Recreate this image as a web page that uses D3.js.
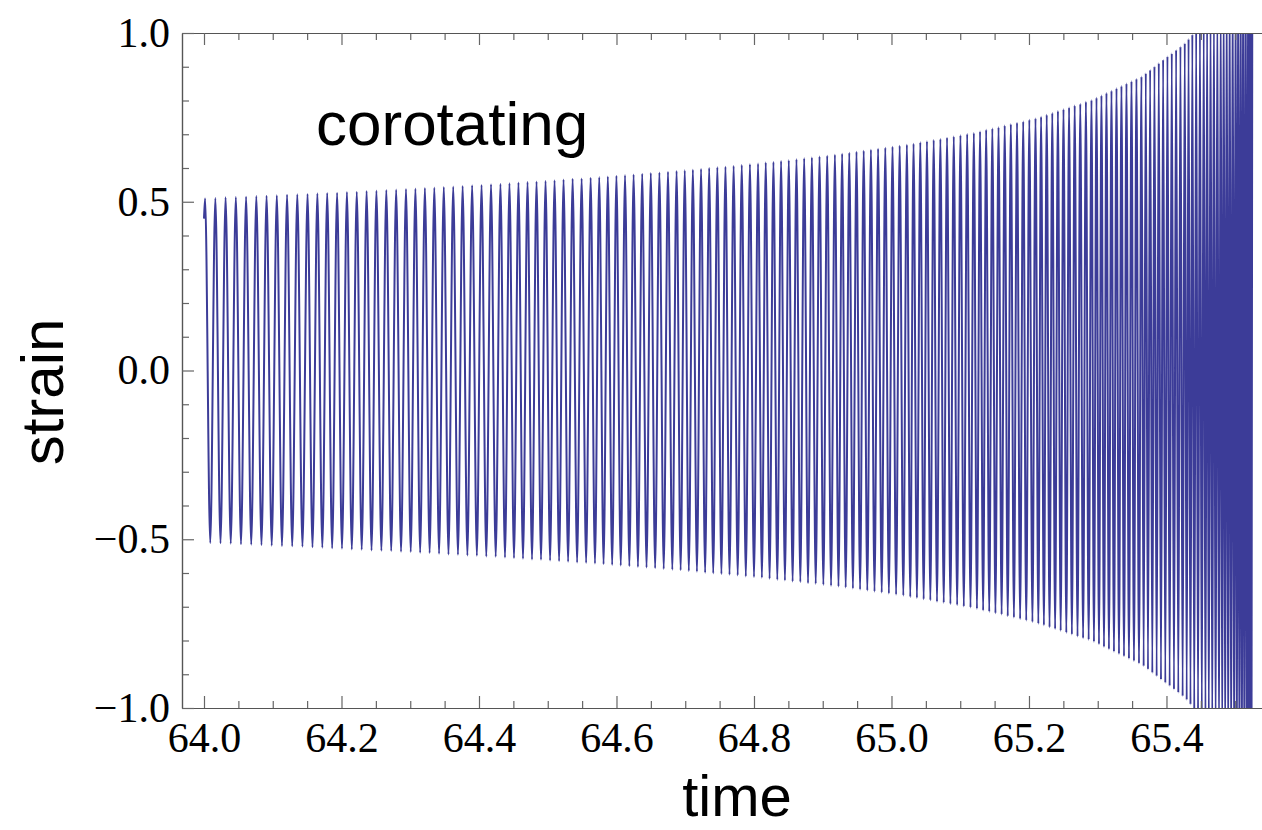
<!DOCTYPE html>
<html><head><meta charset="utf-8">
<script src="https://cdn.jsdelivr.net/npm/d3@7"></script>
<style>
html,body{margin:0;padding:0;background:#fff;overflow:hidden;}
svg{display:block;}
</style></head>
<body>
<svg id="chart" width="1262" height="830"></svg>
<script>
// ---- data (extrema of the waveform) ----
const extremaTime = [64.0000,
64.0016,64.0091,64.0165,64.0240,64.0314,64.0389,64.0463,64.0538,64.0612,64.0687,64.0761,64.0836,64.0910,64.0985,64.1059,64.1134,64.1208,64.1283,64.1357,64.1432,64.1506,
64.1578,64.1649,64.1721,64.1792,64.1864,64.1936,64.2007,64.2079,64.2150,64.2222,64.2294,64.2365,64.2437,64.2508,64.2580,64.2652,64.2723,64.2795,64.2866,64.2938,
64.3007,64.3075,64.3144,64.3213,64.3282,64.3350,64.3419,64.3488,64.3556,64.3625,64.3694,64.3762,64.3831,64.3900,64.3969,64.4037,64.4106,64.4175,64.4243,64.4312,
64.4378,64.4443,64.4509,64.4574,64.4640,64.4706,64.4771,64.4837,64.4902,64.4968,64.5034,64.5099,64.5165,64.5230,64.5296,64.5362,64.5427,64.5493,64.5558,64.5624,
64.5687,64.5749,64.5812,64.5874,64.5937,64.5999,64.6062,64.6124,64.6187,64.6249,64.6312,64.6374,64.6437,64.6499,64.6562,64.6624,64.6687,64.6749,64.6812,64.6874,
64.6933,64.6993,64.7052,64.7111,64.7170,64.7230,64.7289,64.7348,64.7407,64.7467,64.7526,64.7585,64.7644,64.7704,64.7763,64.7822,64.7881,64.7941,64.8000,64.8059,
64.8115,64.8171,64.8227,64.8283,64.8339,64.8394,64.8450,64.8506,64.8562,64.8618,64.8674,64.8730,64.8786,64.8842,64.8898,64.8953,64.9009,64.9065,64.9121,64.9177,
64.9229,64.9282,64.9334,64.9386,64.9439,64.9491,64.9543,64.9596,64.9648,64.9701,64.9753,64.9805,64.9858,64.9910,64.9962,65.0015,65.0067,65.0119,65.0172,65.0224,
65.0273,65.0321,65.0370,65.0419,65.0468,65.0516,65.0565,65.0614,65.0662,65.0711,65.0760,65.0808,65.0857,65.0906,65.0955,65.1003,65.1052,65.1101,65.1149,65.1198,
65.1243,65.1288,65.1333,65.1377,65.1422,65.1467,65.1512,65.1557,65.1602,65.1647,65.1691,65.1736,65.1781,65.1826,65.1871,65.1916,65.1960,65.2005,65.2050,65.2095,
65.2136,65.2176,65.2217,65.2258,65.2299,65.2339,65.2380,65.2421,65.2461,65.2502,65.2543,65.2583,65.2624,65.2665,65.2706,65.2746,65.2787,65.2828,65.2868,65.2909,
65.2945,65.2982,65.3018,65.3054,65.3091,65.3127,65.3163,65.3200,65.3236,65.3273,65.3309,65.3345,65.3382,65.3418,65.3454,65.3491,65.3527,65.3563,65.3600,65.3636,
65.3668,65.3699,65.3731,65.3762,65.3794,65.3825,65.3857,65.3888,65.3920,65.3951,65.3983,65.4014,65.4046,65.4077,65.4109,65.4140,65.4172,65.4203,65.4235,65.4266,
65.4294,65.4321,65.4349,65.4376,65.4404,65.4432,65.4459,65.4487,65.4514,65.4542,
65.4567,65.4591,65.4616,65.4641,65.4666,65.4690,65.4715,65.4740,65.4764,65.4789,
65.4811,65.4832,65.4854,65.4876,65.4898,65.4919,65.4941,65.4963,65.4984,65.5006,
65.5024,65.5042,65.5061,65.5079,65.5097,65.5115,65.5133,65.5152,65.5170,65.5188,
65.5204,65.5219,65.5235,65.5250];

const extremaValue = [0.45,
0.510,-0.511,0.511,-0.512,0.513,-0.513,0.514,-0.515,0.515,-0.516,0.517,-0.517,0.518,-0.519,0.519,-0.520,0.521,-0.521,0.522,-0.522,0.523,
-0.524,0.525,-0.525,0.526,-0.527,0.527,-0.528,0.529,-0.530,0.530,-0.531,0.532,-0.533,0.533,-0.534,0.535,-0.535,0.536,-0.537,0.538,
-0.538,0.539,-0.540,0.541,-0.541,0.542,-0.543,0.544,-0.545,0.545,-0.546,0.547,-0.548,0.549,-0.549,0.550,-0.551,0.552,-0.552,0.553,
-0.554,0.555,-0.556,0.557,-0.558,0.559,-0.560,0.560,-0.561,0.562,-0.563,0.564,-0.565,0.566,-0.567,0.568,-0.569,0.569,-0.570,0.571,
-0.572,0.573,-0.574,0.575,-0.576,0.577,-0.578,0.579,-0.580,0.581,-0.582,0.583,-0.584,0.585,-0.586,0.587,-0.588,0.589,-0.590,0.591,
-0.592,0.593,-0.594,0.595,-0.596,0.597,-0.599,0.600,-0.601,0.602,-0.603,0.604,-0.605,0.606,-0.607,0.609,-0.610,0.611,-0.612,0.613,
-0.614,0.616,-0.617,0.618,-0.620,0.621,-0.622,0.623,-0.625,0.626,-0.627,0.629,-0.630,0.631,-0.632,0.634,-0.635,0.636,-0.638,0.639,
-0.640,0.642,-0.643,0.645,-0.646,0.648,-0.649,0.651,-0.652,0.654,-0.655,0.657,-0.658,0.660,-0.661,0.663,-0.664,0.666,-0.667,0.669,
-0.671,0.672,-0.674,0.676,-0.678,0.679,-0.681,0.683,-0.685,0.686,-0.688,0.690,-0.692,0.693,-0.695,0.697,-0.699,0.701,-0.702,0.704,
-0.706,0.708,-0.711,0.713,-0.715,0.717,-0.719,0.721,-0.723,0.726,-0.728,0.730,-0.732,0.734,-0.736,0.738,-0.741,0.743,-0.745,0.747,
-0.750,0.752,-0.755,0.758,-0.761,0.763,-0.766,0.769,-0.771,0.774,-0.777,0.779,-0.782,0.785,-0.788,0.790,-0.793,0.796,-0.798,0.801,
-0.804,0.808,-0.811,0.815,-0.819,0.822,-0.826,0.829,-0.833,0.836,-0.840,0.843,-0.847,0.850,-0.854,0.857,-0.861,0.864,-0.868,0.871,
-0.876,0.881,-0.886,0.891,-0.896,0.901,-0.906,0.911,-0.916,0.921,-0.926,0.931,-0.935,0.940,-0.945,0.950,-0.955,0.960,-0.965,0.970,
-0.976,0.983,-0.990,0.996,-1.003,1.010,-1.016,1.023,-1.030,1.037,
-1.045,1.054,-1.062,1.071,-1.080,1.088,-1.097,1.106,-1.114,1.123,
-1.135,1.146,-1.158,1.170,-1.182,1.194,-1.205,1.217,-1.229,1.241,
-1.259,1.276,-1.294,1.312,-1.329,1.347,-1.365,1.383,-1.400,1.418,
-1.443,1.469,-1.494,1.520];

const xMajorTicks = [64.0, 64.2, 64.4, 64.6, 64.8, 65.0, 65.2, 65.4];
const xTickLabels = ["64.0","64.2","64.4","64.6","64.8","65.0","65.2","65.4"];
const xMinorTicks = [64.05,64.1,64.15,64.25,64.3,64.35,64.45,64.5,64.55,64.65,64.7,64.75,64.85,64.9,64.95,65.05,65.1,65.15,65.25,65.3,65.35,65.45,65.5];
const yMajorTicks = [-1.0, -0.5, 0.0, 0.5, 1.0];
const yTickLabels = ["\u22121.0","\u22120.5","0.0","0.5","1.0"];
const yMinorTicks = [-0.9,-0.8,-0.7,-0.6,-0.4,-0.3,-0.2,-0.1,0.1,0.2,0.3,0.4,0.6,0.7,0.8,0.9];
const xDomain = [63.968, 65.55];
const yDomain = [-1, 1];

// ---- drawing ----
const svg = d3.select("#chart");
const L = 182, R = 1269.6, T = 33, B = 708;
const x = d3.scaleLinear().domain(xDomain).range([L, R]);
const y = d3.scaleLinear().domain(yDomain).range([B, T]);

svg.append("defs").append("clipPath").attr("id","clip")
  .append("rect").attr("x",L).attr("y",T).attr("width",R-L).attr("height",B-T);

const pts = extremaTime.map((t,i)=>[t, extremaValue[i]]);
const line = d3.line().x(d=>x(d[0])).y(d=>y(d[1])).curve(d3.curveMonotoneX);
svg.append("path").datum(pts)
  .attr("clip-path","url(#clip)")
  .attr("fill","none").attr("stroke","#3c3c98").attr("stroke-width",2)
  .attr("d", line);

const serif = "'Liberation Serif','Times New Roman',serif";
const axisCol = "#555";
function styleAxis(g, withText){
  g.select(".domain").attr("stroke", axisCol).attr("stroke-width",1.2);
  g.selectAll(".tick line").attr("stroke", "#666").attr("stroke-width",1.2);
  g.selectAll("text").attr("font-family", serif).attr("font-size", 42).attr("fill","#000");
  if(!withText) g.selectAll("text").remove();
}
const xfmt = (d)=> xTickLabels[xMajorTicks.indexOf(d)];
const yfmt = (d)=> yTickLabels[yMajorTicks.indexOf(d)];

// bottom
svg.append("g").attr("transform",`translate(0,${B})`)
  .call(d3.axisBottom(x).tickValues(xMinorTicks).tickSize(-7).tickSizeOuter(0).tickFormat(""))
  .call(g=>styleAxis(g,false));
svg.append("g").attr("transform",`translate(0,${B})`)
  .call(d3.axisBottom(x).tickValues(xMajorTicks).tickSize(-12).tickSizeOuter(0).tickPadding(14).tickFormat(xfmt))
  .call(g=>styleAxis(g,true));
// top
svg.append("g").attr("transform",`translate(0,${T})`)
  .call(d3.axisTop(x).tickValues(xMinorTicks).tickSize(-7).tickSizeOuter(0).tickFormat(""))
  .call(g=>styleAxis(g,false));
svg.append("g").attr("transform",`translate(0,${T})`)
  .call(d3.axisTop(x).tickValues(xMajorTicks).tickSize(-12).tickSizeOuter(0).tickFormat(""))
  .call(g=>styleAxis(g,false));
// left
svg.append("g").attr("transform",`translate(${L},0)`)
  .call(d3.axisLeft(y).tickValues(yMinorTicks).tickSize(-7).tickSizeOuter(0).tickFormat(""))
  .call(g=>styleAxis(g,false));
svg.append("g").attr("transform",`translate(${L},0)`)
  .call(d3.axisLeft(y).tickValues(yMajorTicks).tickSize(-12).tickSizeOuter(0).tickPadding(12).tickFormat(yfmt))
  .call(g=>styleAxis(g,true));

const sans = "'Liberation Sans',Arial,Helvetica,sans-serif";
svg.append("text").attr("x",316).attr("y",145).attr("font-family",sans).attr("font-size",62).attr("fill","#000").text("corotating");
svg.append("text").attr("x",737).attr("y",816).attr("text-anchor","middle").attr("font-family",sans).attr("font-size",58).attr("fill","#000").text("time");
svg.append("text").attr("transform","translate(63,392) rotate(-90)").attr("text-anchor","middle").attr("font-family",sans).attr("font-size",60).attr("fill","#000").text("strain");
</script>
</body></html>
